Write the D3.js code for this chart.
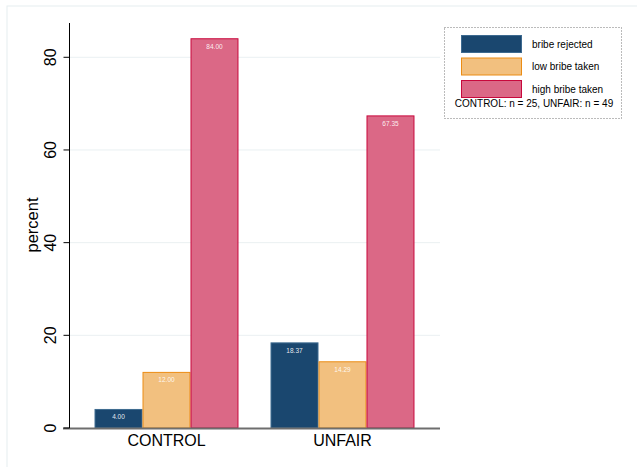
<!DOCTYPE html>
<html>
<head>
<meta charset="utf-8">
<style>
  body { margin: 0; background: #fff; }
  svg { display: block; font-family: "Liberation Sans", Arial, sans-serif; }
</style>
</head>
<body>
<svg width="637" height="467"></svg>
<script src="https://d3js.org/d3.v7.min.js"></script>
<script>

var groups = ["CONTROL", "UNFAIR"];
var series = ["bribe rejected", "low bribe taken", "high bribe taken"];
var controlValues = [4.00, 12.00, 84.00];
var unfairValues = [18.37, 14.29, 67.35];
var yTicks = [0, 20, 40, 60, 80];
var note = "CONTROL: n = 25, UNFAIR: n = 49";

var fills = ["#1a476f", "#f2c07f", "#db6886"];
var strokes = ["#3d6a90", "#eb8c14", "#c8083c"];

var rows = [controlValues, unfairValues];

var svg = d3.select("svg");

// faint outer frame
svg.append("rect")
    .attr("x", 7).attr("y", 6)
    .attr("width", 640).attr("height", 470)
    .attr("fill", "none")
    .attr("stroke", "#e6eef0");

var y = d3.scaleLinear()
    .domain([0, 87.4])
    .range([428, 23]);

var x0 = d3.scaleBand()
    .domain(groups)
    .range([69, 440])
    .paddingInner(0.182)
    .paddingOuter(0.145);

var x1 = d3.scaleBand()
    .domain(series)
    .range([0, x0.bandwidth()]);

// gridlines
svg.append("g")
  .selectAll("line")
  .data(yTicks.slice(1))
  .enter().append("line")
    .attr("x1", 69).attr("x2", 440)
    .attr("y1", function(d) { return y(d); })
    .attr("y2", function(d) { return y(d); })
    .attr("stroke", "#eaf0f2")
    .attr("stroke-width", 1);

// bars
var g = svg.append("g")
  .selectAll("g")
  .data(groups)
  .enter().append("g")
    .attr("transform", function(d) { return "translate(" + x0(d) + ",0)"; });

var bars = g.selectAll("g")
  .data(function(d, i) {
      return series.map(function(s, j) { return { s: s, j: j, v: rows[i][j] }; });
    })
  .enter().append("g");

bars.append("rect")
    .attr("x", function(d) { return x1(d.s) + 0.5; })
    .attr("y", function(d) { return y(d.v); })
    .attr("width", x1.bandwidth() - 1)
    .attr("height", function(d) { return y(0) - y(d.v); })
    .attr("fill", function(d) { return fills[d.j]; })
    .attr("stroke", function(d) { return strokes[d.j]; })
    .attr("stroke-width", 1);

bars.append("text")
    .attr("x", function(d) { return x1(d.s) + x1.bandwidth() / 2; })
    .attr("y", function(d) { return y(d.v) + 10; })
    .attr("text-anchor", "middle")
    .attr("font-size", 6.5)
    .attr("fill", "#fff")
    .attr("fill-opacity", 0.9)
    .text(function(d) { return d.v.toFixed(2); });

// x axis line
svg.append("line")
    .attr("x1", 63).attr("x2", 440)
    .attr("y1", y(0) + 0.5).attr("y2", y(0) + 0.5)
    .attr("stroke", "#6e6e6e")
    .attr("stroke-width", 2);

// y axis
var yAxis = svg.append("g")
    .attr("transform", "translate(69.5,0)")
    .call(d3.axisLeft(y).tickValues(yTicks).tickSize(6));

yAxis.select(".domain")
    .attr("d", "M0," + y(0) + "V" + y(87.4))
    .attr("stroke", "#000");

yAxis.selectAll(".tick").attr("transform", null);

yAxis.selectAll(".tick line")
    .attr("stroke", "#000")
    .attr("y1", function(d) { return y(d); })
    .attr("y2", function(d) { return y(d); });

yAxis.selectAll(".tick text")
    .attr("font-size", 16)
    .attr("fill", "#000")
    .attr("font-family", "Liberation Sans, Arial, sans-serif")
    .attr("text-anchor", "middle")
    .attr("x", 0)
    .attr("dy", 0)
    .attr("y", -14)
    .attr("transform", function(d) { return "translate(0," + y(d) + ") rotate(-90)"; });

svg.append("text")
    .attr("transform", "translate(38," + 225 + ") rotate(-90)")
    .attr("text-anchor", "middle")
    .attr("font-size", 16.5)
    .text("percent");

// group labels
svg.append("g")
  .selectAll("text")
  .data(groups)
  .enter().append("text")
    .attr("x", function(d) { return x0(d) + x0.bandwidth() / 2; })
    .attr("y", 446)
    .attr("text-anchor", "middle")
    .attr("font-size", 16)
    .text(function(d) { return d; });

// legend
var lg = svg.append("g");

lg.append("rect")
    .attr("x", 444.5).attr("y", 27.5)
    .attr("width", 177).attr("height", 91)
    .attr("fill", "#fff")
    .attr("stroke", "#777")
    .attr("stroke-dasharray", "1,2");

var item = lg.selectAll("g")
  .data(series)
  .enter().append("g")
    .attr("transform", function(d, i) { return "translate(0," + (35 + i * 22.5) + ")"; });

item.append("rect")
    .attr("x", 461.5).attr("y", 0.5)
    .attr("width", 60).attr("height", 17)
    .attr("fill", function(d, i) { return fills[i]; })
    .attr("stroke", function(d, i) { return strokes[i]; });

item.append("text")
    .attr("x", 532)
    .attr("y", 12.5)
    .attr("font-size", 10)
    .text(function(d) { return d; });

lg.append("text")
    .attr("x", 534)
    .attr("y", 107)
    .attr("text-anchor", "middle")
    .attr("font-size", 10)
    .text(note);

</script>
</body>
</html>
